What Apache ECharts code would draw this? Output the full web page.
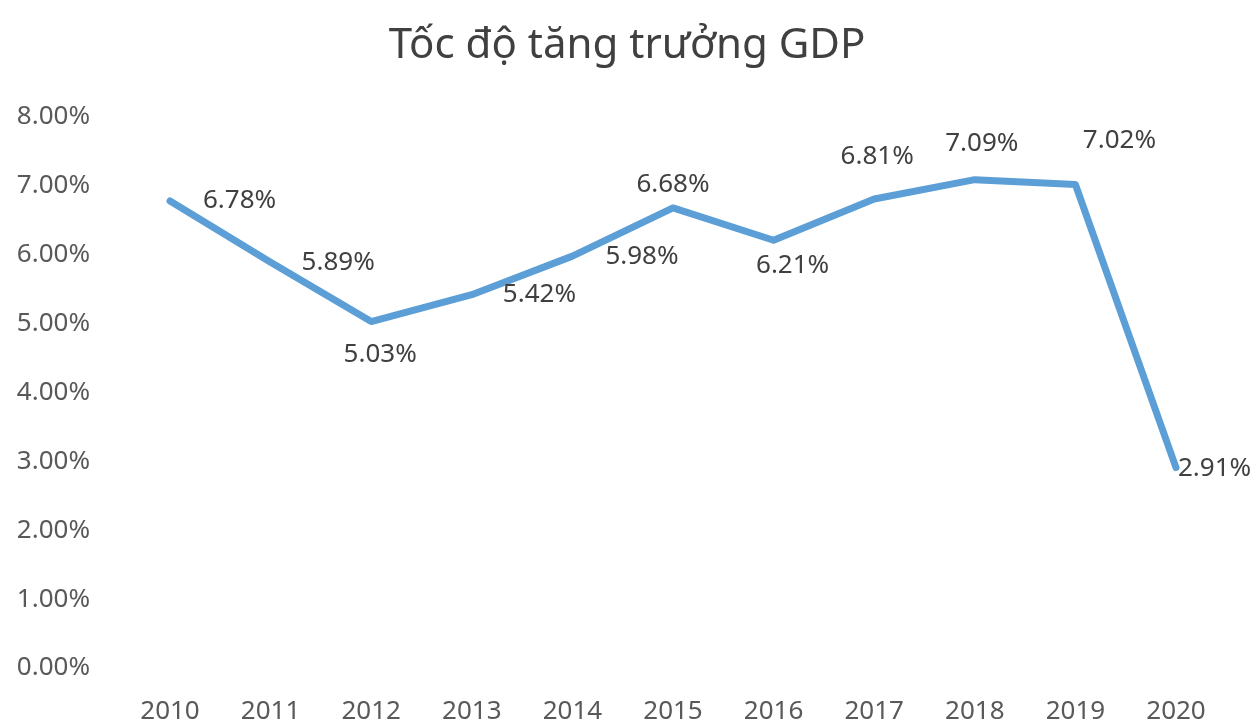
<!DOCTYPE html>
<html>
<head>
<meta charset="utf-8">
<script src="https://cdn.jsdelivr.net/npm/echarts@6/dist/echarts.min.js"></script>
<style>
html,body{margin:0;padding:0;background:#fff;}
#chart{width:1254px;height:720px;}
</style>
</head>
<body>
<div id="chart"></div>
<script>
var titleText = 'Tốc độ tăng trưởng GDP';
var years = ['2010','2011','2012','2013','2014','2015','2016','2017','2018','2019','2020'];
var growth = [6.78, 5.89, 5.03, 5.42, 5.98, 6.68, 6.21, 6.81, 7.09, 7.02, 2.91];

// label placement (style only)
var labelPlace = [
  {position:'right', distance:32, offset:[0,0]},
  {position:'right', distance:30, offset:[0,0]},
  {position:'bottom', distance:19, offset:[9,0]},
  {position:'right', distance:30, offset:[0,0]},
  {position:'right', distance:32, offset:[0,0]},
  {position:'top', distance:9, offset:[0,0]},
  {position:'bottom', distance:11, offset:[19,0]},
  {position:'top', distance:28, offset:[3,0]},
  {position:'top', distance:22, offset:[7,0]},
  {position:'top', distance:30, offset:[44,0]},
  {position:'right', distance:1, offset:[0,1]}
];

var seriesData = growth.map(function(v, i){
  return {value: v, label: labelPlace[i]};
});

var chart = echarts.init(document.getElementById('chart'));
chart.setOption({
  animation: false,
  backgroundColor: '#ffffff',
  title: {
    text: titleText,
    left: 'center',
    top: 20,
    textStyle: {fontFamily: 'Noto Sans', fontSize: 42, fontWeight: 'normal', color: '#404040'}
  },
  grid: {left: 170, right: 78, top: 117, bottom: 52, containLabel: false, outerBoundsMode: 'none'},
  xAxis: {
    type: 'category',
    data: years,
    boundaryGap: false,
    axisLine: {show: false},
    axisTick: {show: false},
    splitLine: {show: false},
    axisLabel: {margin: 31, fontFamily: 'Noto Sans', fontSize: 26, color: '#595959'}
  },
  yAxis: {
    type: 'value',
    min: 0,
    max: 8,
    interval: 1,
    axisLine: {show: false},
    axisTick: {show: false},
    splitLine: {show: false},
    axisLabel: {
      margin: 80,
      fontFamily: 'Noto Sans',
      fontSize: 26,
      color: '#595959',
      formatter: function(v){ return v.toFixed(2) + '%'; }
    }
  },
  series: [{
    type: 'line',
    data: seriesData,
    symbol: 'circle',
    symbolSize: 2,
    showSymbol: true,
    itemStyle: {color: 'rgba(0,0,0,0)'},
    lineStyle: {color: '#5b9fd6', width: 7, cap: 'round', join: 'round'},
    label: {
      show: true,
      fontFamily: 'Noto Sans',
      fontSize: 26,
      color: '#404040',
      formatter: function(p){ return p.value.toFixed(2) + '%'; }
    }
  }]
});
</script>
</body>
</html>
